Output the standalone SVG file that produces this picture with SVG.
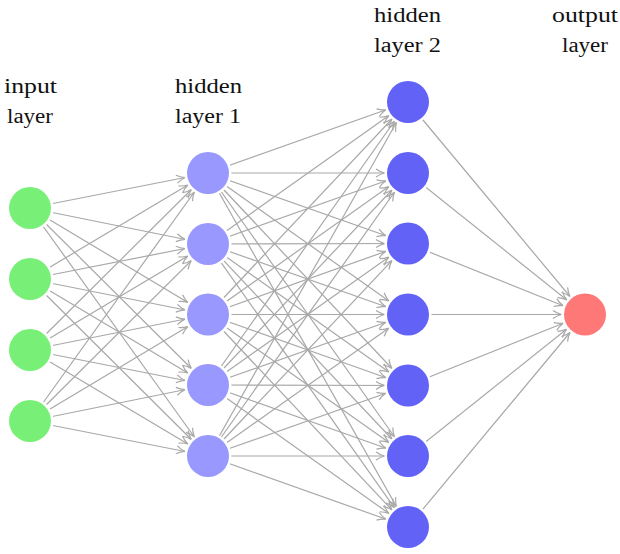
<svg xmlns="http://www.w3.org/2000/svg" width="620" height="554" viewBox="0 0 620 554">
<style>
.lbl{font-family:'Liberation Serif','DejaVu Serif','Times New Roman',serif;font-size:20px;fill:#111}
.e{stroke:#a8a8a8;stroke-width:1.2;fill:none;marker-end:url(#ah)}
.halo{fill:#fff}
.in{fill:#78f078}
.h1{fill:#9898ff}
.h2{fill:#6262f6}
.out{fill:#ff7878}
</style>
<defs>
<marker id="ah" markerUnits="userSpaceOnUse" orient="auto" refX="0" refY="0" markerWidth="1" markerHeight="1" overflow="visible">
<path d="M -32 -4 Q -28 -1.2 -23.5 0 Q -28 1.2 -32 4" fill="none" stroke="#a8a8a8" stroke-width="1.2"/>
</marker>
</defs>
<rect width="620" height="554" fill="#fff"/>
<g id="labels" font-family="Liberation Serif, DejaVu Serif, serif">
<text class="lbl" x="4" y="92.5" textLength="53" lengthAdjust="spacingAndGlyphs">input</text>
<text class="lbl" x="7" y="123" textLength="46" lengthAdjust="spacingAndGlyphs">layer</text>
<text class="lbl" x="175" y="92.5" textLength="67" lengthAdjust="spacingAndGlyphs">hidden</text>
<text class="lbl" x="175" y="123" textLength="66" lengthAdjust="spacingAndGlyphs">layer 1</text>
<text class="lbl" x="374" y="21.5" textLength="67" lengthAdjust="spacingAndGlyphs">hidden</text>
<text class="lbl" x="374" y="52" textLength="67" lengthAdjust="spacingAndGlyphs">layer 2</text>
<text class="lbl" x="552" y="21.5" textLength="66" lengthAdjust="spacingAndGlyphs">output</text>
<text class="lbl" x="562" y="52" textLength="46" lengthAdjust="spacingAndGlyphs">layer</text>
</g>
<g id="connectors">
<line class="e" x1="30" y1="208" x2="208" y2="173"/>
<line class="e" x1="30" y1="208" x2="208" y2="244"/>
<line class="e" x1="30" y1="208" x2="208" y2="314.5"/>
<line class="e" x1="30" y1="208" x2="208" y2="385"/>
<line class="e" x1="30" y1="208" x2="208" y2="456"/>
<line class="e" x1="30" y1="279" x2="208" y2="173"/>
<line class="e" x1="30" y1="279" x2="208" y2="244"/>
<line class="e" x1="30" y1="279" x2="208" y2="314.5"/>
<line class="e" x1="30" y1="279" x2="208" y2="385"/>
<line class="e" x1="30" y1="279" x2="208" y2="456"/>
<line class="e" x1="30" y1="350" x2="208" y2="173"/>
<line class="e" x1="30" y1="350" x2="208" y2="244"/>
<line class="e" x1="30" y1="350" x2="208" y2="314.5"/>
<line class="e" x1="30" y1="350" x2="208" y2="385"/>
<line class="e" x1="30" y1="350" x2="208" y2="456"/>
<line class="e" x1="30" y1="421" x2="208" y2="173"/>
<line class="e" x1="30" y1="421" x2="208" y2="244"/>
<line class="e" x1="30" y1="421" x2="208" y2="314.5"/>
<line class="e" x1="30" y1="421" x2="208" y2="385"/>
<line class="e" x1="30" y1="421" x2="208" y2="456"/>

<line class="e" x1="208" y1="173" x2="408" y2="102"/>
<line class="e" x1="208" y1="173" x2="408" y2="173"/>
<line class="e" x1="208" y1="173" x2="408" y2="243.5"/>
<line class="e" x1="208" y1="173" x2="408" y2="314.5"/>
<line class="e" x1="208" y1="173" x2="408" y2="385.5"/>
<line class="e" x1="208" y1="173" x2="408" y2="456"/>
<line class="e" x1="208" y1="173" x2="408" y2="527"/>
<line class="e" x1="208" y1="244" x2="408" y2="102"/>
<line class="e" x1="208" y1="244" x2="408" y2="173"/>
<line class="e" x1="208" y1="244" x2="408" y2="243.5"/>
<line class="e" x1="208" y1="244" x2="408" y2="314.5"/>
<line class="e" x1="208" y1="244" x2="408" y2="385.5"/>
<line class="e" x1="208" y1="244" x2="408" y2="456"/>
<line class="e" x1="208" y1="244" x2="408" y2="527"/>
<line class="e" x1="208" y1="314.5" x2="408" y2="102"/>
<line class="e" x1="208" y1="314.5" x2="408" y2="173"/>
<line class="e" x1="208" y1="314.5" x2="408" y2="243.5"/>
<line class="e" x1="208" y1="314.5" x2="408" y2="314.5"/>
<line class="e" x1="208" y1="314.5" x2="408" y2="385.5"/>
<line class="e" x1="208" y1="314.5" x2="408" y2="456"/>
<line class="e" x1="208" y1="314.5" x2="408" y2="527"/>
<line class="e" x1="208" y1="385" x2="408" y2="102"/>
<line class="e" x1="208" y1="385" x2="408" y2="173"/>
<line class="e" x1="208" y1="385" x2="408" y2="243.5"/>
<line class="e" x1="208" y1="385" x2="408" y2="314.5"/>
<line class="e" x1="208" y1="385" x2="408" y2="385.5"/>
<line class="e" x1="208" y1="385" x2="408" y2="456"/>
<line class="e" x1="208" y1="385" x2="408" y2="527"/>
<line class="e" x1="208" y1="456" x2="408" y2="102"/>
<line class="e" x1="208" y1="456" x2="408" y2="173"/>
<line class="e" x1="208" y1="456" x2="408" y2="243.5"/>
<line class="e" x1="208" y1="456" x2="408" y2="314.5"/>
<line class="e" x1="208" y1="456" x2="408" y2="385.5"/>
<line class="e" x1="208" y1="456" x2="408" y2="456"/>
<line class="e" x1="208" y1="456" x2="408" y2="527"/>

<line class="e" x1="408" y1="102" x2="585" y2="314.5"/>
<line class="e" x1="408" y1="173" x2="585" y2="314.5"/>
<line class="e" x1="408" y1="243.5" x2="585" y2="314.5"/>
<line class="e" x1="408" y1="314.5" x2="585" y2="314.5"/>
<line class="e" x1="408" y1="385.5" x2="585" y2="314.5"/>
<line class="e" x1="408" y1="456" x2="585" y2="314.5"/>
<line class="e" x1="408" y1="527" x2="585" y2="314.5"/>
</g>
<g id="in1"><circle class="halo" cx="30" cy="208" r="23.5"/><circle class="in" cx="30" cy="208" r="21"/></g>
<g id="in2"><circle class="halo" cx="30" cy="279" r="23.5"/><circle class="in" cx="30" cy="279" r="21"/></g>
<g id="in3"><circle class="halo" cx="30" cy="350" r="23.5"/><circle class="in" cx="30" cy="350" r="21"/></g>
<g id="in4"><circle class="halo" cx="30" cy="421" r="23.5"/><circle class="in" cx="30" cy="421" r="21"/></g>
<g id="h1n1"><circle class="halo" cx="208" cy="173" r="23.5"/><circle class="h1" cx="208" cy="173" r="21"/></g>
<g id="h1n2"><circle class="halo" cx="208" cy="244" r="23.5"/><circle class="h1" cx="208" cy="244" r="21"/></g>
<g id="h1n3"><circle class="halo" cx="208" cy="314.5" r="23.5"/><circle class="h1" cx="208" cy="314.5" r="21"/></g>
<g id="h1n4"><circle class="halo" cx="208" cy="385" r="23.5"/><circle class="h1" cx="208" cy="385" r="21"/></g>
<g id="h1n5"><circle class="halo" cx="208" cy="456" r="23.5"/><circle class="h1" cx="208" cy="456" r="21"/></g>
<g id="h2n1"><circle class="halo" cx="408" cy="102" r="23.5"/><circle class="h2" cx="408" cy="102" r="21"/></g>
<g id="h2n2"><circle class="halo" cx="408" cy="173" r="23.5"/><circle class="h2" cx="408" cy="173" r="21"/></g>
<g id="h2n3"><circle class="halo" cx="408" cy="243.5" r="23.5"/><circle class="h2" cx="408" cy="243.5" r="21"/></g>
<g id="h2n4"><circle class="halo" cx="408" cy="314.5" r="23.5"/><circle class="h2" cx="408" cy="314.5" r="21"/></g>
<g id="h2n5"><circle class="halo" cx="408" cy="385.5" r="23.5"/><circle class="h2" cx="408" cy="385.5" r="21"/></g>
<g id="h2n6"><circle class="halo" cx="408" cy="456" r="23.5"/><circle class="h2" cx="408" cy="456" r="21"/></g>
<g id="h2n7"><circle class="halo" cx="408" cy="527" r="23.5"/><circle class="h2" cx="408" cy="527" r="21"/></g>
<g id="out1"><circle class="halo" cx="585" cy="314.5" r="23.5"/><circle class="out" cx="585" cy="314.5" r="21"/></g>
</svg>
